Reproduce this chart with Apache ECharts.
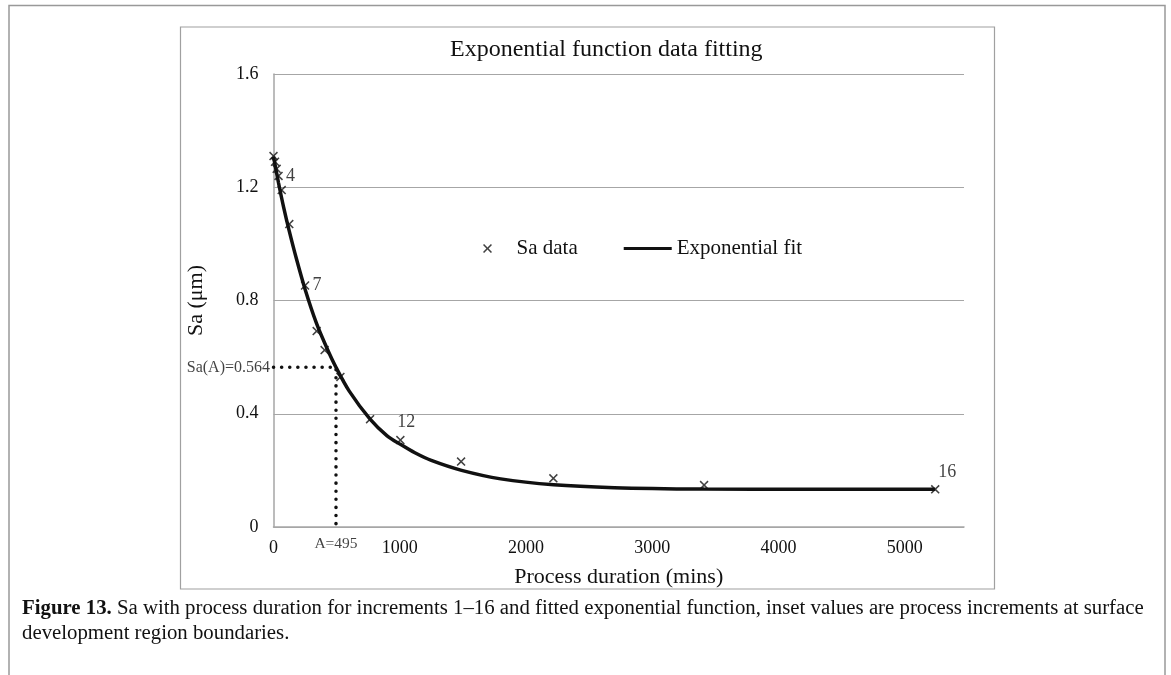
<!DOCTYPE html>
<html>
<head>
<meta charset="utf-8">
<script src="https://cdn.jsdelivr.net/npm/echarts@6/dist/echarts.min.js"></script>
<style>
  html, body { margin: 0; padding: 0; background: #fff; }
  #chart { width: 1171px; height: 675px; }
</style>
</head>
<body>
<div id="chart"></div>
<script>
// Sa measured at each process increment (1..16)
var durations = [0, 12, 25, 40, 65, 125, 250, 342, 405, 530, 765, 1005, 1486, 2217, 3411, 5242];
var saValues = [1.31, 1.29, 1.265, 1.24, 1.19, 1.07, 0.853, 0.692, 0.625, 0.53, 0.381, 0.307, 0.231, 0.172, 0.148, 0.133];
var incrementLabels = ['', '', '', '4', '', '', '7', '', '', '', '', '12', '', '', '', '16'];

// exponential fit curve
var fitX = [0, 40, 80, 125, 180, 250, 340, 420, 495, 600, 765, 900, 1005, 1120, 1250, 1490, 1800, 2220, 2700, 3410, 4200, 5242];
var fitY = [1.308, 1.215, 1.13, 1.045, 0.95, 0.84, 0.72, 0.635, 0.564, 0.48, 0.381, 0.322, 0.292, 0.262, 0.235, 0.2, 0.17, 0.149, 0.139, 0.134, 0.133, 0.133];

// A and Sa(A) marker
var markA = 495;
var markSa = 0.564;

var yTicks = [0, 0.4, 0.8, 1.2, 1.6];

var serif = 'Liberation Serif, Times New Roman, serif';
var crossPath = 'path://M0,1.2L1.2,0L5,3.8L8.8,0L10,1.2L6.2,5L10,8.8L8.8,10L5,6.2L1.2,10L0,8.8L3.8,5Z';
var linePath = 'path://M0,0L48,0L48,3L0,3Z';

var chart = echarts.init(document.getElementById('chart'));

var pointData = durations.map(function (d, i) {
  var item = { value: [d, saValues[i]] };
  var txt = incrementLabels[i];
  if (txt) {
    // 4 and 7 sit to the right, 12 and 16 above-right
    var above = Number(txt) > 10;
    item.label = {
      show: true,
      formatter: txt,
      position: above ? 'top' : 'right',
      distance: above ? 4 : 3,
      offset: above ? [txt === '16' ? 12 : 6, 0] : [0, 0]
    };
  }
  return item;
});

var fitData = fitX.map(function (x, i) { return [x, fitY[i]]; });

var option = {
  animation: false,
  textStyle: { fontFamily: serif, color: '#111' },
  title: {
    text: 'Exponential function data fitting',
    left: 445,
    top: 33,
    textStyle: { fontFamily: serif, fontSize: 24, fontWeight: 'normal', color: '#111' }
  },
  legend: {
    left: 478,
    top: 233,
    itemWidth: 48,
    itemHeight: 9,
    itemGap: 46,
    textStyle: { fontFamily: serif, fontSize: 21, color: '#111' },
    data: [
      { name: 'Sa data', icon: crossPath },
      { name: 'Exponential fit', icon: linePath }
    ]
  },
  grid: { left: 273.5, top: 74, right: 207, bottom: 148, containLabel: false },
  xAxis: {
    type: 'value',
    min: 0,
    max: 5470,
    interval: 1000,
    name: 'Process duration (mins)',
    nameLocation: 'middle',
    nameGap: 39,
    nameMoveOverlap: false,
    nameTextStyle: { fontFamily: serif, fontSize: 22, color: '#111' },
    axisLine: { lineStyle: { color: '#a6a6a6', width: 1.5 } },
    axisTick: { show: false },
    splitLine: { show: false },
    axisLabel: {
      fontFamily: serif, fontSize: 18, color: '#111', margin: 12,
      showMaxLabel: false,
      formatter: function (v) { return String(v); }
    }
  },
  yAxis: {
    type: 'value',
    min: yTicks[0],
    max: yTicks[yTicks.length - 1],
    interval: 0.4,
    name: 'Sa (μm)',
    nameLocation: 'middle',
    nameRotate: 90,
    nameGap: 66,
    nameMoveOverlap: false,
    nameTextStyle: { fontFamily: serif, fontSize: 22, color: '#111' },
    axisLine: { show: true, lineStyle: { color: '#a6a6a6', width: 1.5 } },
    axisTick: { show: false },
    splitLine: { lineStyle: { color: '#a6a6a6', width: 1.2 } },
    axisLabel: {
      fontFamily: serif, fontSize: 18, color: '#111', margin: 15,
      formatter: function (v) { return v === 0 ? '0' : v.toFixed(1); }
    }
  },
  series: [
    {
      name: 'A marker',
      type: 'line',
      data: [[0, markSa], [markA, markSa], [markA, 0]],
      symbol: 'none',
      silent: true,
      z: 1,
      lineStyle: { color: '#111', width: 3.5, type: [0.1, 8], cap: 'round' }
    },
    {
      name: 'marker labels',
      type: 'scatter',
      silent: true,
      symbolSize: 1,
      itemStyle: { color: 'transparent' },
      data: [
        { value: [0, markSa], label: { show: true, position: 'left', distance: 3, formatter: 'Sa(A)=' + markSa, fontSize: 16, color: '#111', fontFamily: serif } },
        { value: [markA, 0], label: { show: true, position: 'bottom', distance: 8, formatter: 'A=' + markA, fontSize: 15.5, color: '#111', fontFamily: serif } }
      ]
    },
    {
      name: 'Exponential fit',
      type: 'line',
      data: fitData,
      smooth: 0.3,
      symbol: 'none',
      z: 3,
      itemStyle: { color: '#111' },
      lineStyle: { color: '#111', width: 3.5 }
    },
    {
      name: 'Sa data',
      type: 'scatter',
      data: pointData,
      symbol: crossPath,
      symbolSize: 9,
      z: 4,
      itemStyle: { color: '#111' },
      label: { fontFamily: serif, fontSize: 18, color: '#111' }
    }
  ],
  graphic: [
    {
      // outer figure frame
      type: 'polyline',
      shape: { points: [[9, 680], [9, 5.5], [1165, 5.5], [1165, 680]] },
      style: { stroke: '#999', lineWidth: 1.5, fill: null },
      silent: true
    },
    {
      // chart area box
      type: 'rect',
      shape: { x: 180.5, y: 27, width: 814, height: 562 },
      style: { stroke: '#a0a0a0', lineWidth: 1.2, fill: null },
      silent: true,
      z: -1
    },
    {
      type: 'text',
      left: 22,
      top: 596,
      style: {
        text: '{b|Figure 13.} Sa with process duration for increments 1–16 and fitted exponential function, inset values are process increments at surface\ndevelopment region boundaries.',
        fontFamily: serif,
        fontSize: 20.8,
        lineHeight: 25,
        fill: '#111',
        rich: { b: { fontWeight: 'bold', fontFamily: serif, fontSize: 20.8, fill: '#111' } }
      }
    }
  ]
};

chart.setOption(option);
</script>
</body>
</html>
